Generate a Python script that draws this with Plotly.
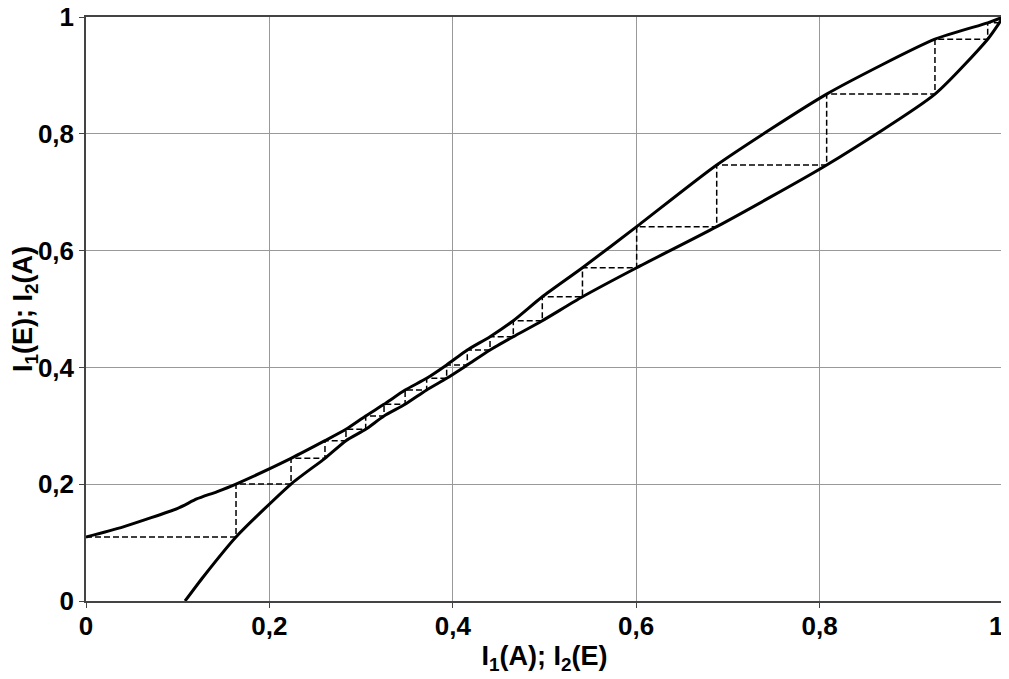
import plotly.graph_objects as go

# Upper curve
upper_x = [0.0, 0.0407, 0.1, 0.1207, 0.1425, 0.1636, 0.2236, 0.2606, 0.2835, 0.305, 0.325,
           0.348, 0.3715, 0.3933, 0.4158, 0.4406, 0.466, 0.4976, 0.5414, 0.6005, 0.6878,
           0.8077, 0.9258, 0.9833, 1.0]
upper_y = [0.1096, 0.127, 0.1587, 0.1747, 0.187, 0.2003, 0.2443, 0.2745, 0.294, 0.3168, 0.3368,
           0.3613, 0.3813, 0.4041, 0.4298, 0.4526, 0.48, 0.521, 0.5707, 0.641, 0.7466,
           0.868, 0.962, 0.99, 1.0]

# Lower curve
lower_x = [0.108, 0.128, 0.1636, 0.2236, 0.2606, 0.2835, 0.305, 0.325, 0.348, 0.3715, 0.3933,
           0.4158, 0.4406, 0.466, 0.4976, 0.5414, 0.6005, 0.6878, 0.8077, 0.9258, 0.9833, 0.996, 1.0]
lower_y = [0.0, 0.0416, 0.1096, 0.2003, 0.2443, 0.2745, 0.294, 0.3168, 0.3368, 0.3613, 0.3813,
           0.4041, 0.4298, 0.4526, 0.48, 0.521, 0.5707, 0.641, 0.7466, 0.868, 0.962, 0.99, 1.0]

# Staircase step levels
step_x = [0.0, 0.1636, 0.2236, 0.2606, 0.2835, 0.305, 0.325, 0.348, 0.3715, 0.3933, 0.4158,
          0.4406, 0.466, 0.4976, 0.5414, 0.6005, 0.6878, 0.8077, 0.9258, 0.9833, 0.996]
step_y = [0.1096, 0.2003, 0.2443, 0.2745, 0.294, 0.3168, 0.3368, 0.3613, 0.3813, 0.4041,
          0.4298, 0.4526, 0.48, 0.521, 0.5707, 0.641, 0.7466, 0.868, 0.962, 0.99]

tick_vals = [0, 0.2, 0.4, 0.6, 0.8, 1.0]
tick_text = ["0", "0,2", "0,4", "0,6", "0,8", "1"]

# build staircase path
sx, sy = [step_x[0]], [step_y[0]]
for i in range(1, len(step_x)):
    sx.append(step_x[i]); sy.append(step_y[i - 1])
    if i < len(step_y):
        sx.append(step_x[i]); sy.append(step_y[i])

fig = go.Figure()
fig.add_trace(go.Scatter(x=sx, y=sy, mode="lines",
                         line=dict(color="black", width=1.5, dash="6px,3px"), hoverinfo="skip"))
fig.add_trace(go.Scatter(x=upper_x, y=upper_y, mode="lines", line_shape="spline",
                         line=dict(color="black", width=3, smoothing=0.6)))
fig.add_trace(go.Scatter(x=lower_x, y=lower_y, mode="lines", line_shape="spline",
                         line=dict(color="black", width=3, smoothing=0.6)))

tfont = dict(family="Liberation Sans, Arial, sans-serif", size=26, color="black")
afont = dict(family="Liberation Sans, Arial, sans-serif", size=27, color="black")
bold = [f"<b>{t}</b>" for t in tick_text]
x_text = bold[:-1] + [""]  # last x label drawn right-aligned as annotation so it stays on page

# page body has an 8px default margin, so the figure is sized/offset to compensate
fig.update_layout(
    width=1001, height=671,
    margin=dict(l=78, r=6, t=9, b=78),
    paper_bgcolor="white", plot_bgcolor="white",
    showlegend=False,
    font=tfont,
)
common = dict(range=[0, 1], tickvals=tick_vals,
              showgrid=True, gridcolor="#999999", gridwidth=1,
              showline=True, linecolor="#444444", linewidth=1.5, mirror=True,
              ticks="outside", ticklen=5, tickcolor="#444444",
              zeroline=False, tickfont=tfont, automargin=False,
              ticklabeloverflow="allow")
fig.update_xaxes(**common, ticktext=x_text, ticklabelstandoff=-4,
                 title=dict(text="<b>I<sub>1</sub>(A); I<sub>2</sub>(E)</b>", font=afont, standoff=6))
fig.update_yaxes(**common, ticktext=bold,
                 title=dict(text="<b>I<sub>1</sub>(E); I<sub>2</sub>(A)</b>", font=afont, standoff=4))
fig.add_annotation(x=tick_vals[-1], xref="x", y=0, yref="paper", text=bold[-1],
                   showarrow=False, xanchor="right", yanchor="middle", yshift=-25,
                   xshift=2, font=tfont)

fig.write_html("out.html")
